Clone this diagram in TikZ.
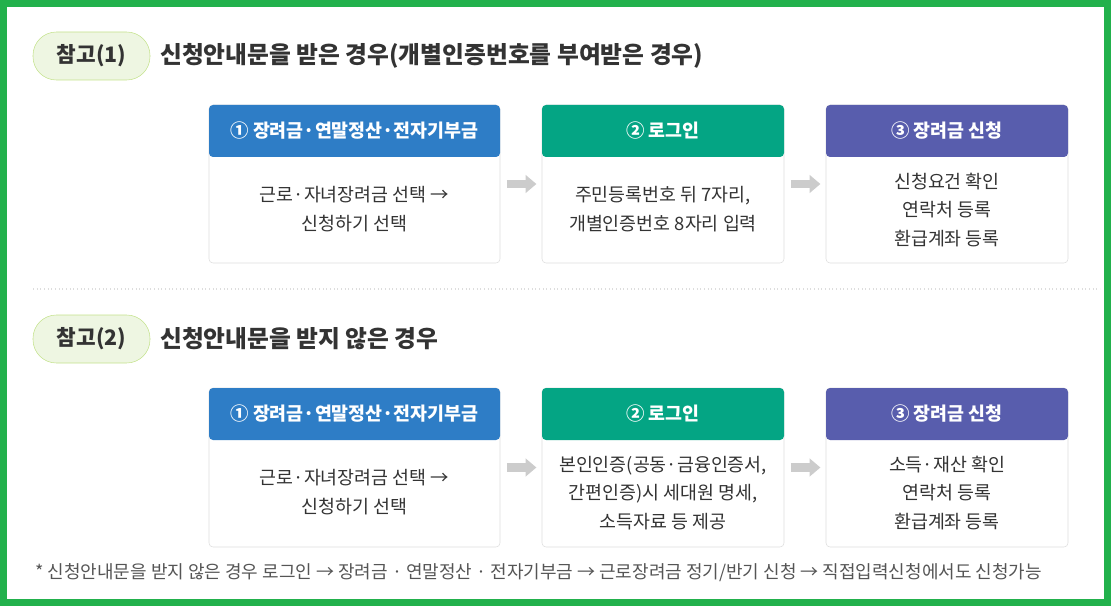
\documentclass[tikz,border=0pt]{standalone}
\usepackage{fontspec}
\setmainfont{Noto Sans CJK KR}
\usetikzlibrary{arrows.meta}

\definecolor{framegreen}{RGB}{34,177,76}
\definecolor{tagfill}{RGB}{238,246,226}
\definecolor{tagline}{RGB}{196,226,140}
\definecolor{hdrblue}{RGB}{46,125,198}
\definecolor{hdrgreen}{RGB}{4,165,132}
\definecolor{hdrpurple}{RGB}{88,93,173}
\definecolor{boxline}{RGB}{221,221,221}
\definecolor{flowgray}{RGB}{204,204,204}
\definecolor{textdark}{RGB}{51,51,51}
\definecolor{notegray}{RGB}{85,85,85}

\begin{document}
\begin{tikzpicture}[
    x=0.75pt, y=-0.75pt,
    every node/.style={inner sep=0pt},
    tag/.style={draw=tagline, fill=tagfill, rounded corners=17.5pt, minimum width=87.75pt, minimum height=36pt, text=textdark, font=\bfseries\fontsize{16}{18}\selectfont},
    title/.style={anchor=west, text=textdark, font=\bfseries\fontsize{17.8}{20}\selectfont},
    stepbox/.style={draw=boxline, fill=white, rounded corners=3pt, minimum height=118.5pt},
    header/.style={rounded corners=3pt, minimum height=39pt, text=white, font=\bfseries\fontsize{13.8}{16}\selectfont},
    body/.style={align=center, text=textdark, font=\fontsize{13.8}{21.3}\selectfont},
    flow/.style={-{Triangle[length=8pt, width=13pt]}, line width=6.5pt, draw=flowgray, shorten <=5pt, shorten >=4pt}
]
\useasboundingbox (0,0) rectangle (1111,606);

% frame
\draw[framegreen, line width=5.25pt] (3.5,3.5) rectangle (1107.5,602.5);

% === CASE 1 ===
\node[tag] (tag1) at (91.5,56) {참고(1)};
\node[title] (title1) at (160,56) {신청안내문을 받은 경우(개별인증번호를 부여받은 경우)};

% step boxes
\node[stepbox, minimum width=218.25pt] (box11) at (354.5,184) {};
\node[stepbox, minimum width=181.5pt] (box12) at (663,184) {};
\node[stepbox, minimum width=181.5pt] (box13) at (947,184) {};

\node[header, fill=hdrblue, minimum width=218.25pt, anchor=north] (hdr11) at (box11.north) {① 장려금·연말정산·전자기부금};
\node[header, fill=hdrgreen, minimum width=181.5pt, anchor=north] (hdr12) at (box12.north) {② 로그인};
\node[header, fill=hdrpurple, minimum width=181.5pt, anchor=north] (hdr13) at (box13.north) {③ 장려금 신청};

\node[body] (txt11) at (354.5,209) {근로·자녀장려금 선택 →\\신청하기 선택};
\node[body] (txt12) at (663,209) {주민등록번호 뒤 7자리,\\개별인증번호 8자리 입력};
\node[body] (txt13) at (947,210) {신청요건 확인\\연락처 등록\\환급계좌 등록};

\draw[flow] (box11.east) -- (box12.west);
\draw[flow] (box12.east) -- (box13.west);

% separator
\draw[boxline, dotted, line width=0.75pt] (33,289) -- (1100,289);

% === CASE 2 ===
\node[tag] (tag2) at (91.5,339) {참고(2)};
\node[title] (title2) at (160,339) {신청안내문을 받지 않은 경우};

\node[stepbox, minimum width=218.25pt, minimum height=119.25pt] (box21) at (354.5,467.5) {};
\node[stepbox, minimum width=181.5pt, minimum height=119.25pt] (box22) at (663,467.5) {};
\node[stepbox, minimum width=181.5pt, minimum height=119.25pt] (box23) at (947,467.5) {};

\node[header, fill=hdrblue, minimum width=218.25pt, anchor=north] (hdr21) at (box21.north) {① 장려금·연말정산·전자기부금};
\node[header, fill=hdrgreen, minimum width=181.5pt, anchor=north] (hdr22) at (box22.north) {② 로그인};
\node[header, fill=hdrpurple, minimum width=181.5pt, anchor=north] (hdr23) at (box23.north) {③ 장려금 신청};

\node[body] (txt21) at (354.5,492) {근로·자녀장려금 선택 →\\신청하기 선택};
\node[body] (txt22) at (663,493) {본인인증(공동·금융인증서,\\간편인증)시 세대원 명세,\\소득자료 등 제공};
\node[body] (txt23) at (947,493) {소득·재산 확인\\연락처 등록\\환급계좌 등록};

\draw[flow] (box21.east) -- (box22.west);
\draw[flow] (box22.east) -- (box23.west);

% footnote
\node[anchor=west, text=notegray, font=\fontsize{13.5}{15}\selectfont] (note) at (35,573) {* 신청안내문을 받지 않은 경우 로그인 → 장려금 · 연말정산 · 전자기부금 → 근로장려금 정기/반기 신청 → 직접입력신청에서도 신청가능};

\end{tikzpicture}
\end{document}
